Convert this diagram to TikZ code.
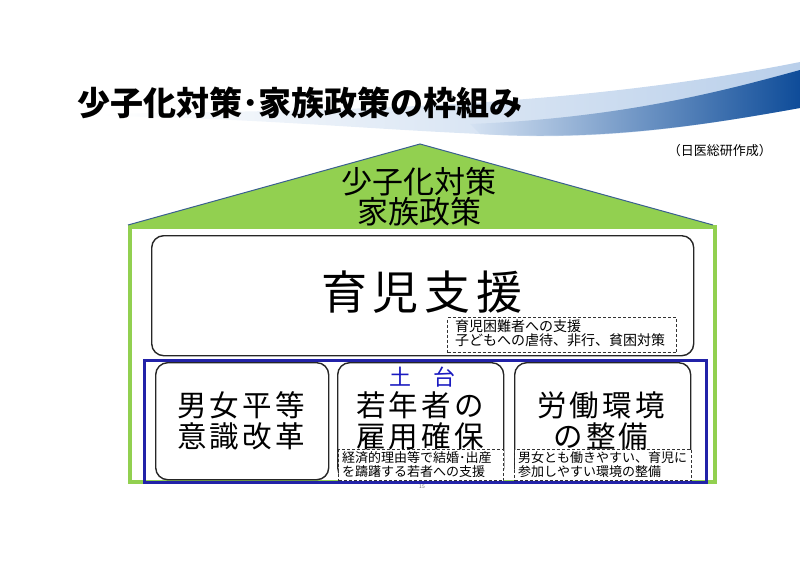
\documentclass[tikz,border=0pt]{standalone}
\usepackage{fontspec}
\setmainfont{Noto Sans CJK JP}
\usetikzlibrary{shapes.geometric}
\definecolor{roofgreen}{HTML}{92D050}
\definecolor{roofline}{HTML}{3A5F8F}
\definecolor{baseblue}{HTML}{2222A8}
\definecolor{swdark}{HTML}{0E4C99}
\definecolor{swlight}{HTML}{B9CFEA}
\definecolor{dai}{HTML}{1A1AC0}
\tikzset{
  bigbox/.style={draw=black!85, line width=1.4pt, rounded corners=12pt, inner sep=0pt},
  dashbox/.style={draw=black!80, fill=white, line width=1pt, dash pattern=on 3pt off 2pt, inner sep=0pt},
  bigtxt/.style={font=\fontsize{29.5}{31}\selectfont, align=center, inner sep=0pt},
  smalltxt/.style={font=\fontsize{13}{14}\selectfont, align=left, inner sep=0pt, anchor=north west},
}
\begin{document}
\begin{tikzpicture}[x=1pt,y=-1pt]
\useasboundingbox (0,0) rectangle (800,565);
% swoosh
\shade[left color=white, right color=swlight]
  (100,114) .. controls (300,110) and (550,112) .. (800,62)
  -- (800,108) .. controls (700,126) and (600,142) .. (480,134)
  .. controls (350,128) and (250,118) .. (100,116) -- cycle;
\shade[left color=swlight!60, right color=swdark]
  (470,124) .. controls (620,118) and (720,92) .. (800,70)
  -- (800,108) .. controls (700,126) and (600,141) .. (480,134) -- cycle;
% title
\node[anchor=west, inner sep=0pt, font=\fontsize{33}{34}\selectfont\bfseries] (title) at (77,103) {少子化対策･家族政策の枠組み};
\node[anchor=east, inner sep=0pt, font=\fontsize{13}{14}\selectfont] (src) at (772,151) {（日医総研作成）};
% wall
\node[draw=roofgreen, line width=4pt, minimum width=585, minimum height=255, anchor=north west, inner sep=0pt] (wall) at (128,225) {};
% roof
\coordinate (apex) at (420,144);
\coordinate (rl) at (128,225);
\coordinate (rr) at (713,225);
\fill[roofgreen] (rl) -- (apex) -- (rr) -- cycle;
\draw[roofline, line width=1pt] (rl) -- (apex) -- (rr);
\node[font=\fontsize{31}{30}\selectfont, align=center, inner sep=0pt] (rooftxt) at (419,197) {少子化対策\\家族政策};
% ikuji
\node[bigbox, minimum width=542, minimum height=120, anchor=north west] (ikuji) at (151,235) {};
\node[font=\fontsize{46}{46}\selectfont, inner sep=0pt] (ikujitxt) at (422,292) {育\hspace{6pt}児\hspace{6pt}支\hspace{6pt}援};
\node[dashbox, minimum width=229, minimum height=35, anchor=north west] (d1) at (447,317) {};
\node[smalltxt, font=\fontsize{14}{14}\selectfont] (d1t) at (455,320) {育児困難者への支援\\子どもへの虐待、非行、貧困対策};
% base
\node[draw=baseblue, line width=2.5pt, minimum width=562, minimum height=122, anchor=north west, inner sep=0pt] (base) at (143,359) {};
\node[bigbox, minimum width=173, minimum height=117, anchor=north west] (b1) at (155,362) {};
\node[bigbox, minimum width=166, minimum height=117, anchor=north west] (b2) at (337,362) {};
\node[bigbox, minimum width=176, minimum height=117, anchor=north west] (b3) at (514,362) {};
\node[font=\fontsize{22}{22}\selectfont, text=dai, inner sep=0pt] (dai) at (422,377) {土　台};
\node[bigtxt] (b1t) at (241,421) {男\hspace{3pt}女\hspace{3pt}平\hspace{3pt}等\\意\hspace{3pt}識\hspace{3pt}改\hspace{3pt}革};
\node[bigtxt] (b2t) at (420,421) {若\hspace{3pt}年\hspace{3pt}者\hspace{3pt}の\\雇\hspace{3pt}用\hspace{3pt}確\hspace{3pt}保};
\node[bigtxt] (b3t) at (601,421) {労\hspace{3pt}働\hspace{3pt}環\hspace{3pt}境\\の\hspace{3pt}整\hspace{3pt}備};
\node[dashbox, minimum width=165, minimum height=31, anchor=north west] (d2) at (338,449) {};
\node[dashbox, minimum width=177, minimum height=31, anchor=north west] (d3) at (514,449) {};
\node[smalltxt] (d2t) at (342,451) {経済的理由等で結婚･出産\\を躊躇する若者への支援};
\node[smalltxt] (d3t) at (518,451) {男女とも働きやすい、育児に\\参加しやすい環境の整備};
\node[font=\fontsize{5}{5}\selectfont, text=black!60, inner sep=0pt] (pg) at (422,487) {15};
\end{tikzpicture}
\end{document}
